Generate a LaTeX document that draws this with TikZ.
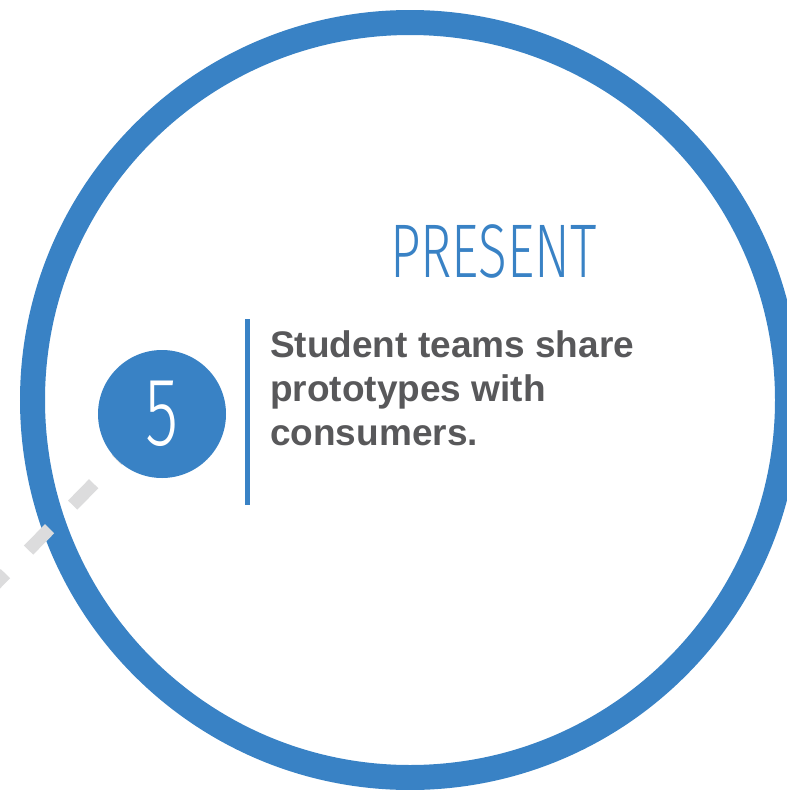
\documentclass[tikz,border=0pt]{standalone}
\usepackage{fontspec}
\setmainfont{Liberation Sans}
\newfontfamily\thinfont{Fira Sans Light}[FakeStretch=0.70]
\definecolor{ringblue}{HTML}{3982C5}
\definecolor{dashgray}{HTML}{DCDCDD}
\definecolor{textgray}{HTML}{58585A}
\tikzset{
  ring/.style={draw=ringblue, line width=25pt},
  numdisc/.style={circle, fill=ringblue, minimum size=128pt, inner sep=0pt, text=white,
    font=\thinfont\fontsize{97}{97}\selectfont},
  pathdash/.style={draw=dashgray, line width=13pt, dash pattern=on 30pt off 33pt, dash phase=28.4pt},
  bar/.style={draw=ringblue, line width=5pt},
  titletext/.style={text=ringblue, inner sep=0pt, font=\thinfont\fontsize{76}{76}\selectfont},
  bodytext/.style={text=textgray, inner sep=0pt, anchor=base west, font=\bfseries\fontsize{37}{44}\selectfont}
}
\begin{document}
\begin{tikzpicture}[x=1pt, y=-1pt]
\useasboundingbox (0,0) rectangle (787,790);
\node[circle, minimum size=755pt, inner sep=0pt, ring] (big) at (410,400) {};
\coordinate (tail) at (-88,669);
\coordinate (hub) at (162,414);
\draw[pathdash] (hub) -- (tail);
\node[numdisc] (five) at (hub) {5};
\coordinate (bartop) at (247.5,319);
\coordinate (barbot) at (247.5,505);
\draw[bar] (bartop) -- (barbot);
\node[titletext, anchor=base] (title) at (493.5,277) {PRESENT};
\node[bodytext] (l1) at (270,357) {Student teams share};
\node[bodytext] (l2) at (270,401) {prototypes with};
\node[bodytext] (l3) at (270,445) {consumers.};
\end{tikzpicture}
\end{document}
